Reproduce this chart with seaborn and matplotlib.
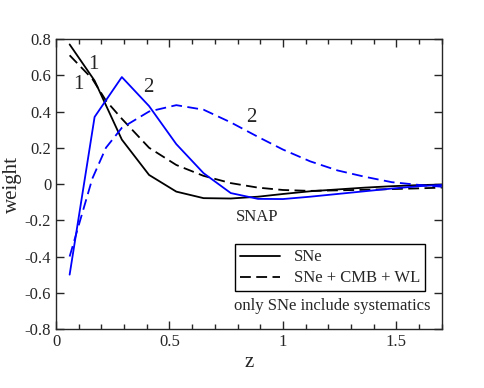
import numpy as np
import pandas as pd
import seaborn as sns
import matplotlib.pyplot as plt
from matplotlib.ticker import MultipleLocator, FuncFormatter

# redshift bins
z = [0.06, 0.17, 0.29, 0.41, 0.53, 0.65, 0.77, 0.89, 1.0, 1.12, 1.24, 1.36, 1.48, 1.6, 1.7]

# weights, w0 (1) and wa (2)
sne_1 = [0.77, 0.57, 0.245, 0.05, -0.042, -0.078, -0.08, -0.07, -0.055, -0.04, -0.03, -0.02, -0.012, -0.006, -0.003]
sne_2 = [-0.50, 0.37, 0.59, 0.43, 0.22, 0.06, -0.05, -0.082, -0.083, -0.07, -0.055, -0.04, -0.025, -0.012, -0.005]

z_comb = [0.06, 0.16, 0.22, 0.29, 0.41, 0.53, 0.65, 0.77, 0.89, 1.0, 1.12, 1.24, 1.36, 1.48, 1.6, 1.7]
comb_1 = [0.71, 0.58, 0.46, 0.36, 0.20, 0.105, 0.045, 0.005, -0.02, -0.033, -0.038, -0.035, -0.032, -0.028, -0.024, -0.02]
comb_2 = [-0.40, 0.03, 0.20, 0.31, 0.40, 0.435, 0.41, 0.34, 0.26, 0.19, 0.125, 0.075, 0.04, 0.01, -0.005, -0.015]

sns.set_style('ticks')
plt.rcParams['font.family'] = ['Liberation Serif', 'DejaVu Serif']
plt.rcParams['mathtext.fontset'] = 'stix'

fig = plt.figure(figsize=(4.85, 3.88), dpi=100)
ax = fig.add_axes([0.1155, 0.152, 0.7955, 0.7475])

lw = 1.3
sns.lineplot(x=z, y=sne_1, ax=ax, color='black', lw=lw, label='SNe')
sns.lineplot(x=z_comb, y=comb_1, ax=ax, color='black', lw=lw, label='SNe + CMB + WL', dashes=False)
ax.lines[-1].set_dashes([6, 3])
sns.lineplot(x=z, y=sne_2, ax=ax, color='#0000ff', lw=lw)
sns.lineplot(x=z_comb, y=comb_2, ax=ax, color='#0000ff', lw=lw)
ax.lines[-1].set_dashes([6, 3])

ax.set_xlim(0, 1.7)
ax.set_ylim(-0.8, 0.8)
ax.set_yticks([-0.8, -0.6, -0.4, -0.2, 0, 0.2, 0.4, 0.6, 0.8])
ax.xaxis.set_major_locator(MultipleLocator(0.5))
ax.xaxis.set_minor_locator(MultipleLocator(0.1))
fmt = FuncFormatter(lambda v, p: f'{v:g}' if abs(v) > 1e-9 else '0')
ax.xaxis.set_major_formatter(fmt)
ax.yaxis.set_major_formatter(fmt)
ax.tick_params(which='both', direction='in', top=True, right=True, labelsize=12, width=1)
ax.tick_params(which='major', length=6)
ax.tick_params(which='minor', length=3.5)
for s in ax.spines.values():
    s.set_linewidth(1)

ax.set_xlabel('z', fontsize=15, labelpad=2)
ax.set_ylabel('weight', fontsize=15, labelpad=2)

# curve labels
ax.text(0.165, 0.66, '1', fontsize=15, ha='center', va='center')
ax.text(0.1, 0.55, '1', fontsize=15, ha='center', va='center')
ax.text(0.405, 0.535, '2', fontsize=15, ha='center', va='center')
ax.text(0.86, 0.365, '2', fontsize=15, ha='center', va='center')

ax.text(0.465, 0.385, 'SNAP', transform=ax.transAxes, fontsize=12, va='center')
leg = ax.legend(loc='upper left', bbox_to_anchor=(0.465, 0.292), fontsize=12,
                fancybox=False, edgecolor='black', framealpha=1, handlelength=2.4,
                borderpad=0.3, labelspacing=0.3, handletextpad=0.8, borderaxespad=0)
leg.get_frame().set_linewidth(1)
ax.text(0.462, 0.078, 'only SNe include systematics', transform=ax.transAxes, fontsize=12, va='center')

fig.savefig('out.png', dpi=100)
